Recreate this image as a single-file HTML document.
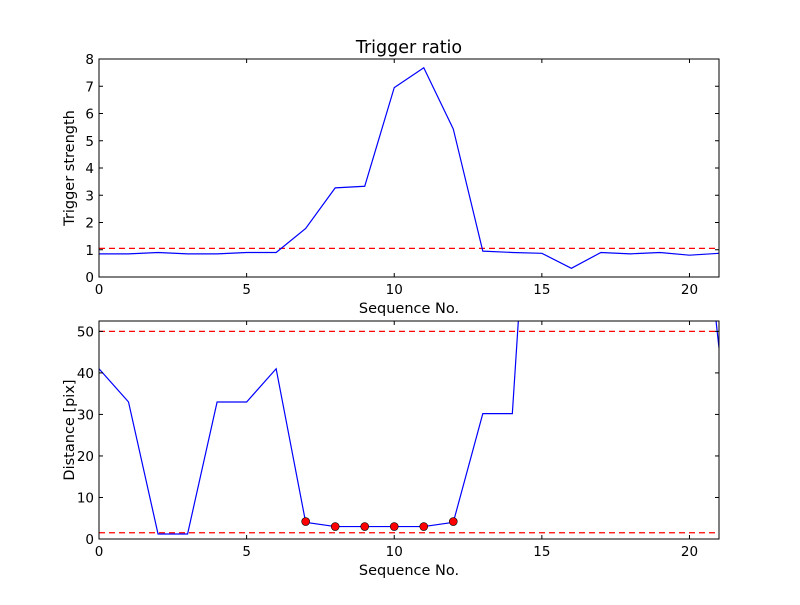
<!DOCTYPE html>
<html><head><meta charset="utf-8"><style>
body{margin:0;background:#fff;}
svg text{font-family:"DejaVu Sans","Liberation Sans",sans-serif;fill:#000;}
</style></head><body>
<svg id="fig" width="800" height="600" xmlns="http://www.w3.org/2000/svg">
<rect width="800" height="600" fill="#fff"/>
</svg>
<script>
const seqX=[0,1,2,3,4,5,6,7,8,9,10,11,12,13,14,15,16,17,18,19,20,21];
const triggerVals=[0.85,0.85,0.9,0.85,0.85,0.9,0.9,1.78,3.27,3.33,6.95,7.68,5.43,0.95,0.9,0.87,0.32,0.9,0.85,0.9,0.8,0.87];
const triggerThreshold=1.05;
const distVals=[41,33,1.2,1.2,33,33,41,4,3,3,3,3,4,30.2,30.2,140,120,120,120,120,111,46];
const markerX=[7,8,9,10,11,12];
const markerVals=[4.2,3,3,3,3,4.2];
const distThresholds=[50,1.5];
const xTicks=[0,5,10,15,20];
const topYTicks=[0,1,2,3,4,5,6,7,8];
const botYTicks=[0,10,20,30,40,50];

const svg=document.getElementById('fig');
const NS='http://www.w3.org/2000/svg';
function mk(tag,attrs,parent){const e=document.createElementNS(NS,tag);for(const k in attrs)e.setAttribute(k,attrs[k]);(parent||svg).appendChild(e);return e;}

function panel(name,top,bottom,ymax,yticks,ylabel){
  const L=99,R=719;
  const sx=v=>L+(v-0)/21*(R-L);
  const sy=v=>bottom-v/ymax*(bottom-top);
  const g=mk('g',{});
  
  
  const cid='clip-'+name;
  const cp=mk('clipPath',{id:cid},g);mk('rect',{x:L,y:top,width:R-L,height:bottom-top},cp);
  const plot=mk('g',{'clip-path':'url(#'+cid+')'},g);
  return {g,plot,sx,sy,L,R,top,bottom,finish(){
    const fr=mk('rect',{x:L,y:top,width:R-L,height:bottom-top,fill:'none',stroke:'#000','stroke-width':1},g);
    
    
    xTicks.forEach(t=>{const x=sx(t);
      mk('line',{x1:x,x2:x,y1:bottom,y2:bottom-4,stroke:'#000'},g);
      mk('line',{x1:x,x2:x,y1:top,y2:top+4,stroke:'#000'},g);
      const tx=mk('text',{x:x,y:bottom+17,'text-anchor':'middle','font-size':'13.5'},g);tx.textContent=t;
      
      });
    yticks.forEach(t=>{const y=sy(t);
      mk('line',{x1:L,x2:L+4,y1:y,y2:y,stroke:'#000'},g);
      mk('line',{x1:R,x2:R-4,y1:y,y2:y,stroke:'#000'},g);
      const tx=mk('text',{x:L-5,y:y+5,'text-anchor':'end','font-size':'13.5'},g);tx.textContent=t;
      
      });
    const xl=mk('text',{x:(L+R)/2,y:bottom+36,'text-anchor':'middle','font-size':'14.5'},g);xl.textContent='Sequence No.';
    
    
    const yl=mk('text',{x:0,y:0,'text-anchor':'middle','font-size':'14.5',transform:'translate(74,'+((top+bottom)/2)+') rotate(-90)'},g);yl.textContent=ylabel;
    
    
  }};
}

// Top panel
const p1=panel('trigger',59,277,8,topYTicks,'Trigger strength');
let th=mk('line',{x1:p1.L,x2:p1.R,y1:p1.sy(triggerThreshold),y2:p1.sy(triggerThreshold),stroke:'#f00','stroke-dasharray':'6,4','stroke-width':1.2},p1.plot);


let l1=mk('polyline',{points:seqX.map((x,i)=>p1.sx(x)+','+p1.sy(triggerVals[i])).join(' '),fill:'none',stroke:'#00f','stroke-width':1.2},p1.plot);


p1.finish();
const title=mk('text',{x:409,y:53,'text-anchor':'middle','font-size':'17.5'});title.textContent='Trigger ratio';



// Bottom panel
const p2=panel('distance',321,539,52.5,botYTicks,'Distance [pix]');
distThresholds.forEach(v=>{const l=mk('line',{x1:p2.L,x2:p2.R,y1:p2.sy(v),y2:p2.sy(v),stroke:'#f00','stroke-dasharray':'6,4','stroke-width':1.2},p2.plot);
  
  });
let l2=mk('polyline',{points:seqX.map((x,i)=>p2.sx(x)+','+p2.sy(distVals[i])).join(' '),fill:'none',stroke:'#00f','stroke-width':1.2},p2.plot);


markerX.forEach((x,i)=>{const c=mk('circle',{cx:p2.sx(x),cy:p2.sy(markerVals[i]),r:4,fill:'#f00',stroke:'#000','stroke-width':0.6},p2.g);
  
  });
p2.finish();
</script>
</body></html>
